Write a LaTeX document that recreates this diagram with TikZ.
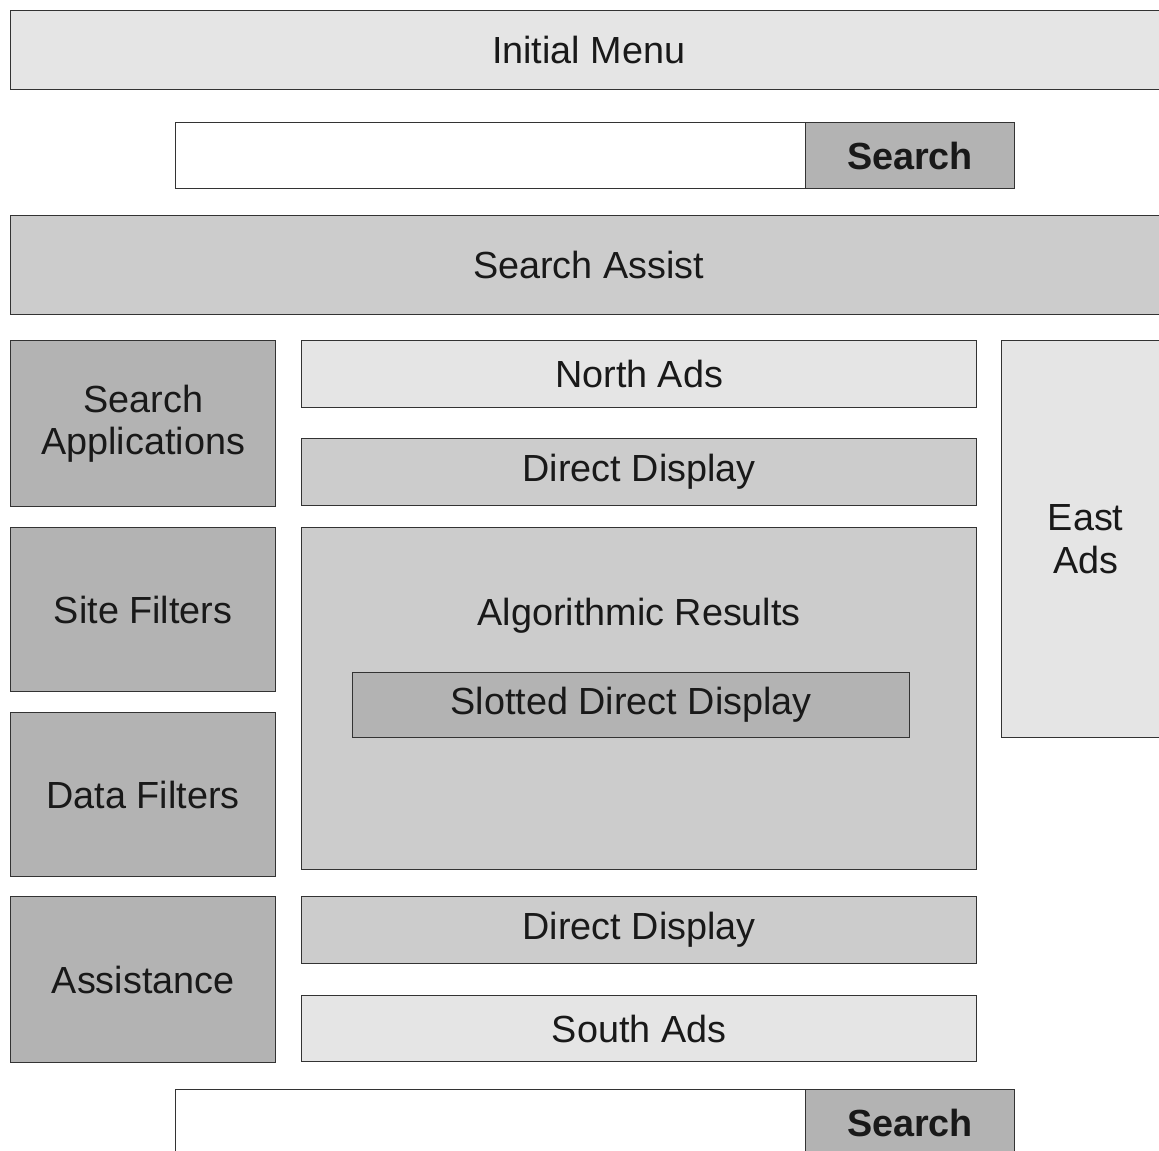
\documentclass[tikz,border=0pt]{standalone}
\usepackage{fontspec}
\setmainfont{Liberation Sans}
\usetikzlibrary{positioning}
\definecolor{paneLight}{HTML}{E5E5E5}
\definecolor{paneMid}{HTML}{CCCCCC}
\definecolor{paneDark}{HTML}{B3B3B3}
\definecolor{lineGray}{HTML}{333333}
\begin{document}
\begin{tikzpicture}
		[x = 0.02cm, y = -0.02cm,
		 pane/.style = {draw=lineGray, line width=0.8pt, anchor=north west, inner sep=0pt,
		 	align=center, text=black!90, font=\fontsize{21.5}{24}\selectfont},
		 light/.style = {pane, fill=paneLight},
		 mid/.style = {pane, fill=paneMid},
		 dark/.style = {pane, fill=paneDark},
		 field/.style = {pane, fill=white},
		 button/.style = {dark, font=\fontsize{21.5}{24}\selectfont\bfseries}]
		\useasboundingbox (0,0) rectangle (1159,1151);
		\clip (0,0) rectangle (1159,1151);

		% top of the page
		\coordinate (a) at (10,10);
		\coordinate (b) at (175,122);
		\coordinate (c) at (10,215);
		\path
		(a) node[light, minimum width=23.12cm, minimum height=1.58cm](menu) {Initial Menu}
		(b) node[field, minimum width=12.6cm, minimum height=1.32cm](topfield) {}
		(c) node[mid, minimum width=23.12cm, minimum height=1.98cm](assist) {Search Assist};
		\node[button, minimum width=4.18cm, minimum height=1.32cm, right=-0.8pt of topfield.north east, anchor=north west](topsearch) {Search};

		% left column
		\coordinate (d) at (10,340);
		\coordinate (e) at (10,527);
		\coordinate (f) at (10,712);
		\coordinate (g) at (10,896);
		\path
		(d) node[dark, minimum width=5.3cm, minimum height=3.32cm](apps) {Search\\Applications}
		(e) node[dark, minimum width=5.3cm, minimum height=3.28cm](site) {Site Filters}
		(f) node[dark, minimum width=5.3cm, minimum height=3.28cm](data) {Data Filters}
		(g) node[dark, minimum width=5.3cm, minimum height=3.32cm](assistance) {Assistance};

		% middle column
		\coordinate (h) at (301,340);
		\coordinate (i) at (301,438);
		\coordinate (j) at (301,527);
		\coordinate (k) at (352,672);
		\coordinate (l) at (301,896);
		\coordinate (m) at (301,995);
		\path
		(h) node[light, minimum width=13.5cm, minimum height=1.34cm](north) {North Ads}
		(i) node[mid, minimum width=13.5cm, minimum height=1.34cm](direct) {Direct Display}
		(j) node[mid, minimum width=13.5cm, minimum height=6.84cm](algo) {}
		(k) node[dark, minimum width=11.14cm, minimum height=1.3cm](slotted) {Slotted Direct Display}
		(l) node[mid, minimum width=13.5cm, minimum height=1.34cm](direct2) {Direct Display}
		(m) node[light, minimum width=13.5cm, minimum height=1.32cm](south) {South Ads};
		\node[below=1.78cm of algo.north, anchor=center, font=\fontsize{21.5}{24}\selectfont, text=black!90](algotext) {Algorithmic Results};

		% right column
		\coordinate (n) at (1001,340);
		\path
		(n) node[light, minimum width=3.36cm, minimum height=7.94cm](east) {East\\Ads};

		% bottom of the page
		\coordinate (o) at (175,1089);
		\path
		(o) node[field, minimum width=12.6cm, minimum height=1.32cm](botfield) {};
		\node[button, minimum width=4.18cm, minimum height=1.32cm, right=-0.8pt of botfield.north east, anchor=north west](botsearch) {Search};
	\end{tikzpicture}
\end{document}
